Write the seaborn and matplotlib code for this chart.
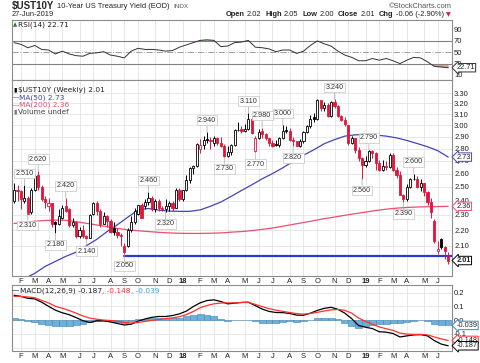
import numpy as np
import pandas as pd
import matplotlib
matplotlib.use("Agg")
import matplotlib.pyplot as plt
import seaborn as sns
from matplotlib.ticker import FixedLocator, NullLocator, FormatStrFormatter

# weekly bars of $UST10Y, one per week starting Monday 2017-01-23
first_week = "2017-01-23"
opens = [2.40, 2.48, 2.47, 2.40, 2.42, 2.32, 2.48, 2.59, 2.50, 2.41,
         2.36, 2.38, 2.25, 2.24, 2.28, 2.36, 2.34, 2.23, 2.25, 2.16,
         2.20, 2.16, 2.15, 2.31, 2.38, 2.33, 2.24, 2.29, 2.26, 2.21,
         2.19, 2.17, 2.10, 2.10, 2.20, 2.25, 2.31, 2.37, 2.36, 2.39,
         2.42, 2.34, 2.40, 2.35, 2.34, 2.36, 2.38, 2.35, 2.48, 2.41,
         2.48, 2.55, 2.64, 2.66, 2.80, 2.83, 2.88, 2.87, 2.85, 2.89,
         2.85, 2.82, 2.74, 2.77, 2.83, 2.96, 2.97, 2.95, 2.97, 3.06,
         2.78, 2.89, 2.95, 2.92, 2.89, 2.85, 2.84, 2.83, 2.89, 2.96,
         2.95, 2.87, 2.86, 2.82, 2.86, 2.94, 2.99, 3.07, 3.06, 3.23,
         3.16, 3.19, 3.08, 3.21, 3.18, 3.08, 3.05, 3.00, 2.85, 2.89,
         2.79, 2.72, 2.67, 2.70, 2.78, 2.76, 2.68, 2.63, 2.66, 2.65,
         2.75, 2.63, 2.59, 2.44, 2.41, 2.50, 2.56, 2.56, 2.50, 2.53,
         2.46, 2.39, 2.26, 2.07, 2.14, 2.09, 2.04]
highs = [2.53, 2.51, 2.48, 2.51, 2.43, 2.49, 2.60, 2.62, 2.51, 2.43,
         2.42, 2.38, 2.26, 2.34, 2.37, 2.42, 2.35, 2.28, 2.26, 2.22,
         2.23, 2.17, 2.31, 2.39, 2.40, 2.34, 2.32, 2.30, 2.27, 2.25,
         2.21, 2.18, 2.12, 2.21, 2.29, 2.35, 2.37, 2.38, 2.41, 2.46,
         2.43, 2.41, 2.41, 2.36, 2.41, 2.40, 2.40, 2.49, 2.49, 2.48,
         2.59, 2.65, 2.67, 2.85, 2.88, 2.91, 2.94, 2.90, 2.91, 2.90,
         2.90, 2.84, 2.82, 2.84, 2.97, 3.03, 2.99, 3.01, 3.11, 3.07,
         2.91, 2.97, 2.98, 2.93, 2.89, 2.87, 2.87, 2.90, 3.00, 2.99,
         2.98, 2.90, 2.86, 2.88, 2.95, 3.00, 3.09, 3.11, 3.24, 3.23,
         3.21, 3.20, 3.22, 3.24, 3.19, 3.09, 3.07, 3.00, 2.91, 2.89,
         2.81, 2.73, 2.74, 2.79, 2.79, 2.77, 2.71, 2.71, 2.70, 2.76,
         2.76, 2.65, 2.62, 2.45, 2.52, 2.57, 2.60, 2.58, 2.56, 2.53,
         2.47, 2.42, 2.27, 2.13, 2.15, 2.10, 2.06]
lows = [2.38, 2.40, 2.34, 2.38, 2.31, 2.31, 2.47, 2.48, 2.40, 2.35,
        2.33, 2.22, 2.18, 2.23, 2.27, 2.32, 2.22, 2.22, 2.15, 2.15,
        2.15, 2.14, 2.15, 2.30, 2.30, 2.22, 2.24, 2.22, 2.18, 2.17,
        2.15, 2.10, 2.05, 2.09, 2.19, 2.24, 2.30, 2.28, 2.34, 2.37,
        2.33, 2.32, 2.33, 2.33, 2.32, 2.33, 2.33, 2.35, 2.40, 2.40,
        2.47, 2.53, 2.60, 2.65, 2.76, 2.80, 2.85, 2.80, 2.82, 2.83,
        2.81, 2.73, 2.73, 2.75, 2.82, 2.95, 2.93, 2.94, 2.96, 2.92,
        2.77, 2.88, 2.89, 2.87, 2.82, 2.81, 2.82, 2.81, 2.88, 2.93,
        2.86, 2.82, 2.82, 2.81, 2.85, 2.93, 2.98, 3.03, 3.05, 3.13,
        3.13, 3.07, 3.07, 3.16, 3.07, 3.04, 2.99, 2.83, 2.84, 2.76,
        2.70, 2.56, 2.65, 2.69, 2.72, 2.63, 2.62, 2.62, 2.63, 2.64,
        2.62, 2.57, 2.44, 2.39, 2.40, 2.49, 2.55, 2.49, 2.47, 2.43,
        2.37, 2.28, 2.12, 2.05, 2.08, 2.02, 1.99]
closes = [2.48, 2.47, 2.41, 2.42, 2.31, 2.48, 2.58, 2.50, 2.41, 2.39,
          2.38, 2.24, 2.24, 2.29, 2.35, 2.33, 2.23, 2.25, 2.16, 2.20,
          2.16, 2.15, 2.30, 2.38, 2.33, 2.24, 2.29, 2.26, 2.19, 2.19,
          2.17, 2.16, 2.06, 2.20, 2.25, 2.33, 2.37, 2.28, 2.39, 2.42,
          2.34, 2.40, 2.35, 2.34, 2.36, 2.38, 2.35, 2.48, 2.41, 2.48,
          2.55, 2.64, 2.66, 2.84, 2.83, 2.87, 2.87, 2.86, 2.89, 2.85,
          2.82, 2.74, 2.77, 2.83, 2.96, 2.96, 2.95, 2.97, 3.06, 2.93,
          2.89, 2.94, 2.92, 2.89, 2.85, 2.82, 2.83, 2.89, 2.95, 2.95,
          2.87, 2.86, 2.82, 2.86, 2.94, 2.99, 3.06, 3.06, 3.23, 3.16,
          3.19, 3.08, 3.21, 3.18, 3.08, 3.05, 3.01, 2.85, 2.89, 2.79,
          2.72, 2.67, 2.70, 2.78, 2.76, 2.68, 2.63, 2.66, 2.65, 2.75,
          2.63, 2.59, 2.44, 2.41, 2.50, 2.56, 2.56, 2.50, 2.53, 2.46,
          2.39, 2.32, 2.13, 2.08, 2.09, 2.07, 2.01]

# moving averages, read every 3rd week
ma50 = [1.87, 1.905, 1.935, 1.975, 2.005, 2.035, 2.06, 2.10, 2.14, 2.19,
        2.235, 2.285, 2.335, 2.345, 2.333, 2.327, 2.325, 2.325, 2.335, 2.36,
        2.39, 2.43, 2.473, 2.515, 2.56, 2.60, 2.645, 2.695, 2.745, 2.79,
        2.84, 2.875, 2.905, 2.916, 2.919, 2.914, 2.905, 2.89, 2.868, 2.842,
        2.815, 2.782, 2.73]
ma200 = [2.243, 2.25, 2.258, 2.263, 2.266, 2.264, 2.255, 2.244, 2.233, 2.222,
         2.21, 2.202, 2.195, 2.19, 2.185, 2.181, 2.179, 2.178, 2.178, 2.179,
         2.181, 2.186, 2.19, 2.196, 2.204, 2.213, 2.225, 2.237, 2.249, 2.262,
         2.275, 2.286, 2.298, 2.309, 2.32, 2.331, 2.34, 2.347, 2.352, 2.355,
         2.357, 2.358, 2.36]

# indicators, read every 2nd week
rsi14 = [67, 64, 58, 62, 55, 54, 47, 52, 47, 44, 43, 48, 49, 51, 45, 43, 40, 52, 57, 55,
         55, 54, 52, 53, 59, 63, 67, 71, 72, 71, 60, 61, 67, 68, 71, 59, 58, 56, 51, 54,
         54, 48, 52, 62, 70, 65, 61, 52, 45, 41, 35, 35, 39, 36, 39, 35, 30, 36, 41, 40,
         33, 25, 24, 22.71]
macd_line = [0.180, 0.172, 0.158, 0.154, 0.130, 0.100, 0.072, 0.053, 0.039, 0.018,
             -0.005, -0.018, -0.005, -0.005, -0.014, -0.025, -0.036, -0.030, -0.008, 0.008,
             0.020, 0.026, 0.026, 0.033, 0.045, 0.065, 0.098, 0.125, 0.142, 0.147,
             0.135, 0.118, 0.123, 0.128, 0.130, 0.105, 0.080, 0.063, 0.055, 0.054,
             0.048, 0.036, 0.035, 0.050, 0.070, 0.085, 0.093, 0.078, 0.050, 0.010,
             -0.040, -0.052, -0.062, -0.085, -0.088, -0.098, -0.123, -0.115, -0.108, -0.106,
             -0.115, -0.150, -0.175, -0.187]
macd_signal = [0.172, 0.172, 0.168, 0.162, 0.143, 0.125, 0.100, 0.086, 0.070, 0.050,
               0.030, 0.014, 0.006, 0.000, -0.003, -0.009, -0.018, -0.021, -0.017, -0.010,
               -0.002, 0.004, 0.011, 0.016, 0.024, 0.040, 0.062, 0.090, 0.106, 0.118,
               0.124, 0.125, 0.125, 0.128, 0.128, 0.114, 0.098, 0.083, 0.072, 0.063,
               0.055, 0.047, 0.043, 0.048, 0.056, 0.066, 0.074, 0.077, 0.071, 0.050,
               0.015, -0.010, -0.030, -0.050, -0.063, -0.075, -0.095, -0.102, -0.104, -0.104,
               -0.108, -0.123, -0.137, -0.148]
macd_hist = [0.018, 0.005, -0.008, -0.015, -0.025, -0.035, -0.045, -0.045, -0.040, -0.035,
             -0.030, -0.015, -0.005, -0.005, -0.010, -0.015, -0.018, -0.010, 0.005, 0.010,
             0.012, 0.012, 0.010, 0.012, 0.018, 0.028, 0.038, 0.045, 0.040, 0.028,
             0.010, -0.005, -0.002, 0.000, 0.002, -0.010, -0.018, -0.020, -0.018, -0.012,
             -0.010, -0.012, -0.010, 0.002, 0.012, 0.015, 0.015, 0.005, -0.018, -0.040,
             -0.055, -0.045, -0.035, -0.030, -0.025, -0.020, -0.022, -0.012, -0.005, -0.002,
             -0.010, -0.028, -0.038, -0.039]

# labelled swing points: (week number, high or low)
swing_points = [(3, "H"), (4, "L"), (7, "H"), (12, "L"), (15, "H"), (21, "L"), (32, "L"),
                (39, "H"), (44, "L"), (56, "H"), (61, "L"), (68, "H"), (70, "L"), (72, "H"),
                (78, "H"), (81, "L"), (93, "H"), (101, "L"), (103, "H"), (113, "L"), (116, "H")]
support_level = 2.04
support_from = "2017-09-04"

price_ticks = [2.1, 2.2, 2.3, 2.4, 2.5, 2.6, 2.7, 2.8, 2.9, 3.0, 3.1, 3.2, 3.3]
rsi_ticks = [10, 30, 50, 70, 90]
macd_ticks = [-0.2, -0.1, 0.0, 0.1, 0.2]
macd_tick_lbls = ["", "-0.1", "0.0", "0.1", "0.2"]

RED = "#e0163c"
BLUE = "#4444b4"
PINK = "#e8506e"
GRID = "#e4e4e4"
FRAME = "#8c8c8c"
SANS = "Liberation Sans"

sns.set_theme(style="white")
plt.rcParams["font.family"] = ["DejaVu Sans"]

W, H = 480, 363
fig = plt.figure(figsize=(W / 100, H / 100), dpi=100)


def box(l, t, r, b):
    return [l / W, 1 - b / H, (r - l) / W, (b - t) / H]


ax_rsi = fig.add_axes(box(12, 20, 452, 80))
ax_px = fig.add_axes(box(12, 80, 452, 276))
ax_macd = fig.add_axes(box(12, 285, 452, 351))

weeks = pd.date_range(first_week, periods=len(closes), freq="7D")
pos = np.arange(len(weeks))
o, h, l, c = map(np.array, (opens, highs, lows, closes))
prev = np.r_[o[0], c[:-1]]

# month ticks on the first bar of each month
ticks = [i for i in range(1, len(weeks)) if weeks[i].month != weeks[i - 1].month]
tick_lbls = ["%02d" % (weeks[i].year % 100) if weeks[i].month == 1 else "JFMAMJJASOND"[weeks[i].month - 1]
             for i in ticks]

for ax in (ax_rsi, ax_px, ax_macd):
    ax.set_facecolor("white")
    ax.set_xlim(-0.6, 127.1)
    ax.set_xticks(ticks)
    ax.set_xticklabels(tick_lbls)
    ax.yaxis.tick_right()
    ax.tick_params(length=0, labelsize=5.5, pad=1.5, colors="#222222")
    for t in ax.get_xticklabels() + ax.get_yticklabels():
        t.set_family(SANS)
    for s in ax.spines.values():
        s.set_color(FRAME)
        s.set_linewidth(0.8)
    for t in ax.get_xticklabels():
        if t.get_text().isdigit():
            t.set_fontweight("bold")
ax_rsi.tick_params(axis="x", labelbottom=False)

# --- price panel
ax_px.set_yscale("log")
ax_px.set_ylim(1.92, 3.43)
ax_px.yaxis.set_major_locator(FixedLocator(price_ticks))
ax_px.yaxis.set_major_formatter(FormatStrFormatter("%.2f"))
ax_px.yaxis.set_minor_locator(NullLocator())
ax_px.grid(True, color=GRID, lw=0.6)

col = np.where(c >= prev, "black", RED)
face = np.where(c > o, "white", col)
ax_px.vlines(pos, l, h, colors=col, lw=0.7, zorder=3)
ax_px.bar(pos, np.abs(c - o), bottom=np.minimum(o, c), width=0.62,
          color=face, edgecolor=col, linewidth=0.6, zorder=4)

sns.lineplot(x=pos[::3], y=ma50, ax=ax_px, color=BLUE, lw=0.9, zorder=2)
sns.lineplot(x=pos[::3], y=ma200, ax=ax_px, color=PINK, lw=0.9, zorder=2)
start = weeks.get_loc(pd.Timestamp(support_from))
ax_px.plot([pos[start], pos[-1] + 1], [support_level] * 2, color="#2a3bd0", lw=1.6, zorder=2)

for i, kind in swing_points:
    v = h[i] if kind == "H" else l[i]
    up = kind == "H"
    ax_px.annotate("%.3f" % v, xy=(i, v), xytext=(0, 6 if up else -6), textcoords="offset points",
                   ha="center", va="bottom" if up else "top", fontsize=5.2, family=SANS, color="#333333",
                   bbox=dict(boxstyle="square,pad=0.18", fc="white", ec="#c4c4c4", lw=0.5),
                   arrowprops=dict(arrowstyle="-", color="#a8a8a8", lw=0.5, shrinkA=0, shrinkB=0),
                   zorder=6)


def tag(ax, y, text, ec, bold=False):
    ax.annotate(text, xy=(1, y), xycoords=("axes fraction", "data"), xytext=(3.2, 0),
                textcoords="offset points", ha="left", va="center", fontsize=5.3, family=SANS,
                fontweight="bold" if bold else "normal", color="#222222",
                bbox=dict(boxstyle="larrow,pad=0.1", fc="white", ec=ec, lw=0.7),
                annotation_clip=False, zorder=10)


tag(ax_px, ma50[-1], "%.2f" % ma50[-1], BLUE)
tag(ax_px, ma200[-1], "%.2f" % ma200[-1], PINK)
tag(ax_px, closes[-1], "%.2f" % closes[-1], "black", bold=True)

# --- RSI panel
rsi = np.array(rsi14)
ax_rsi.set_ylim(1, 107)
ax_rsi.set_yticks(rsi_ticks)
ax_rsi.grid(True, axis="x", color=GRID, lw=0.6)
ax_rsi.axhline(70, color="#808080", lw=0.8)
ax_rsi.axhline(30, color="#808080", lw=0.8)
ax_rsi.axhline(50, color="#a0a0a0", lw=0.7, ls="-.")
ax_rsi.fill_between(pos[::2], rsi, 30, where=rsi < 30, interpolate=True, color="#e89a9a", lw=0)
ax_rsi.fill_between(pos[::2], rsi, 70, where=rsi > 70, interpolate=True, color="#8fcf8f", lw=0)
sns.lineplot(x=pos[::2], y=rsi, ax=ax_rsi, color="#333333", lw=0.7)
tag(ax_rsi, rsi14[-1], "%.2f" % rsi14[-1], "#333333")

# --- MACD panel
ax_macd.set_ylim(-0.225, 0.255)
ax_macd.set_yticks(macd_ticks)
ax_macd.set_yticklabels(macd_tick_lbls, family=SANS)
ax_macd.grid(True, color=GRID, lw=0.6)
ax_macd.bar(pos[::2], macd_hist, width=2.0, color="#6fb0d8", edgecolor="#3f83b5", linewidth=0.4, zorder=2)
sns.lineplot(x=pos[::2], y=macd_line, ax=ax_macd, color="black", lw=0.9, zorder=3)
sns.lineplot(x=pos[::2], y=macd_signal, ax=ax_macd, color="#ff3030", lw=0.9, zorder=3)
tag(ax_macd, macd_hist[-1], "%.3f" % macd_hist[-1], "#3f83b5")
tag(ax_macd, macd_signal[-1], "%.3f" % macd_signal[-1], "#ff3030")
tag(ax_macd, macd_line[-1], "%.3f" % macd_line[-1], "black")

for ax in (ax_rsi, ax_px, ax_macd):
    ax.set_xlabel("")
    ax.set_ylabel("")

# --- texts
rend = fig.canvas.get_renderer()


def text_row(x, y, parts):
    for s, kw in parts:
        gap = kw.pop("gap", 0)
        t = fig.text(x / W, 1 - y / H, s, ha="left", va="center", **kw)
        x += t.get_window_extent(renderer=rend).width + gap
    return x


hdr = dict(family=SANS, fontsize=5.4, color="#222222")
text_row(12, 6.5, [("$UST10Y", dict(family=SANS, fontsize=7, fontweight="bold", gap=3)),
                   ("10-Year US Treasury Yield (EOD)", dict(hdr, gap=3)),
                   ("INDX", dict(hdr, fontsize=4.6, color="#555555"))])
fig.text(452 / W, 1 - 6.5 / H, "©StockCharts.com", ha="right", va="center",
         family=SANS, fontsize=5.4, color="#555555")
fig.text(12 / W, 1 - 15 / H, "27-Jun-2019", ha="left", va="center", **hdr)
b = dict(hdr, fontweight="bold", gap=2)
n = dict(hdr, gap=4)
text_row(226, 15, [("Open", dict(b)), ("2.02", dict(n)), ("High", dict(b)), ("2.05", dict(n)),
                   ("Low", dict(b)), ("2.00", dict(n)), ("Close", dict(b)), ("2.01", dict(n)),
                   ("Chg", dict(b)), ("-0.06 (-2.90%)", dict(n, gap=2)),
                   ("▼", dict(family="DejaVu Sans", fontsize=4.5, color=RED))])

leg = dict(fontsize=5.3, color="#222222")
text_row(13, 24.5, [("▲", dict(fontsize=4, color="#2a7a2a", gap=1)), ("RSI(14) 22.71", dict(leg))])
text_row(13, 90, [("▮", dict(fontsize=4.5, color="black", gap=1)), ("$UST10Y (Weekly) 2.01", dict(leg))])
text_row(12, 97.5, [("—", dict(leg, color=BLUE, gap=0)), ("MA(50) 2.73", dict(leg, color=BLUE))])
text_row(12, 104.8, [("—", dict(leg, color=PINK, gap=0)), ("MA(200) 2.36", dict(leg, color=PINK))])
text_row(13, 112, [("▮", dict(fontsize=4.5, color="#777777", gap=1)), ("Volume undef", dict(leg, color="#444444"))])
text_row(12, 290.5, [("—", dict(leg, color="black", gap=1)), ("MACD(12,26,9) -0.187", dict(leg)),
                     (", -0.148", dict(leg, color="#ff3030")), (", -0.039", dict(leg, color="#3f9fd0"))])

fig.savefig("out.png", dpi=100, facecolor="white")
